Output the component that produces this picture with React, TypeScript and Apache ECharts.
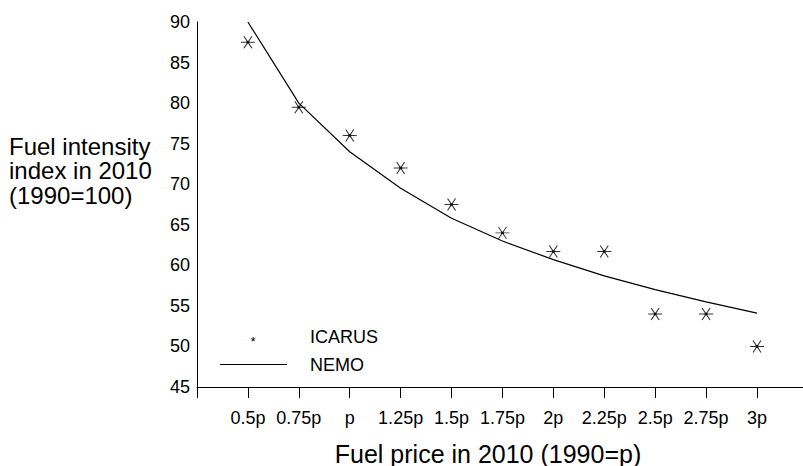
import React, { useEffect, useRef } from 'react';
import * as echarts from 'echarts';

// Fuel price in 2010 as a multiple of the 1990 price p
const priceMultiples = [0.5, 0.75, 1, 1.25, 1.5, 1.75, 2, 2.25, 2.5, 2.75, 3];
const priceTickLabels = ['0.5p', '0.75p', 'p', '1.25p', '1.5p', '1.75p', '2p', '2.25p', '2.5p', '2.75p', '3p'];
// Fuel intensity index in 2010 (1990 = 100)
const icarusValues = [87.5, 79.5, 76, 72, 67.5, 64, 61.7, 61.7, 54, 54, 50];
const nemoValues = [90, 80, 74, 69.5, 65.8, 63, 60.7, 58.7, 57, 55.5, 54.1];
const seriesNames = ['ICARUS', 'NEMO'];
const xAxisTitle = 'Fuel price in 2010 (1990=p)';
const yAxisTitle = 'Fuel intensity\nindex in 2010\n(1990=100)';
const xMin = 0.25;
const xMax = 3.226;
const yMin = 45;
const yMax = 90;
const yStep = 5;

const FONT = '"Liberation Sans", Arial, Helvetica, sans-serif';
const STAR = 'path://M0,6L14,6M3,0L11,12M11,0L3,12M6,5L8,5L8,7L6,7Z';

export default function App() {
  const ref = useRef<HTMLDivElement>(null);
  useEffect(() => {
    if (!ref.current) return;
    const chart = echarts.init(ref.current, null, { renderer: 'svg' });
    const labelFor = (v: number) => {
      const i = priceMultiples.findIndex((m) => Math.abs(m - v) < 1e-6);
      return i >= 0 ? priceTickLabels[i] : '';
    };
    chart.setOption({
      animation: false,
      backgroundColor: '#fff',
      textStyle: { fontFamily: FONT },
      grid: { left: 197, right: 0, top: 22, bottom: 79 },
      xAxis: {
        type: 'value',
        min: xMin,
        max: xMax,
        interval: 0.25,
        axisLine: { show: true, lineStyle: { color: '#000', width: 1 } },
        axisTick: {
          show: true,
          length: 11,
          customValues: [xMin, ...priceMultiples],
          lineStyle: { color: '#000', width: 1 },
        },
        axisLabel: {
          customValues: priceMultiples,
          formatter: (v: number) => labelFor(v),
          fontSize: 18,
          color: '#000',
          fontFamily: FONT,
          margin: 22,
        },
        splitLine: { show: false },
      },
      yAxis: {
        type: 'value',
        min: yMin,
        max: yMax,
        interval: yStep,
        axisLine: { show: true, lineStyle: { color: '#000', width: 1 } },
        axisTick: { show: false },
        axisLabel: { fontSize: 18, color: '#000', fontFamily: FONT, margin: 7 },
        splitLine: { show: false },
      },
      series: [
        {
          name: seriesNames[0],
          type: 'scatter',
          data: priceMultiples.map((x, i) => [x, icarusValues[i]]),
          symbol: STAR,
          symbolSize: [14, 12],
          itemStyle: { color: '#000', borderColor: '#000', borderWidth: 1 },
          z: 3,
        },
        {
          name: seriesNames[1],
          type: 'line',
          data: priceMultiples.map((x, i) => [x, nemoValues[i]]),
          showSymbol: false,
          symbol: 'none',
          clip: false,
          lineStyle: { color: '#000', width: 1.2 },
          z: 2,
        },
      ],
      graphic: [
        {
          type: 'text',
          x: 9,
          y: 170.5,
          style: {
            text: yAxisTitle,
            fontSize: 24,
            lineHeight: 24.5,
            fontFamily: FONT,
            fill: '#000',
            textVerticalAlign: 'middle',
          },
        },
        {
          type: 'text',
          x: 488,
          y: 453.5,
          style: {
            text: xAxisTitle,
            fontSize: 25,
            fontFamily: FONT,
            fill: '#000',
            textAlign: 'center',
            textVerticalAlign: 'middle',
          },
        },
        {
          type: 'text',
          x: 253,
          y: 341,
          style: {
            text: '*',
            fontSize: 13,
            fontFamily: FONT,
            fill: '#000',
            textAlign: 'center',
            textVerticalAlign: 'middle',
          },
        },
        {
          type: 'line',
          shape: { x1: 220, y1: 364.5, x2: 287, y2: 364.5 },
          style: { stroke: '#000', lineWidth: 1 },
        },
        {
          type: 'text',
          x: 310,
          y: 337,
          style: {
            text: seriesNames[0],
            fontSize: 18,
            fontFamily: FONT,
            fill: '#000',
            textVerticalAlign: 'middle',
          },
        },
        {
          type: 'text',
          x: 310,
          y: 365,
          style: {
            text: seriesNames[1],
            fontSize: 18,
            fontFamily: FONT,
            fill: '#000',
            textVerticalAlign: 'middle',
          },
        },
      ],
    });
    return () => chart.dispose();
  }, []);
  return (
    <div
      ref={ref}
      style={{ position: 'fixed', left: 0, top: 0, width: 803, height: 466, background: '#fff' }}
    />
  );
}
